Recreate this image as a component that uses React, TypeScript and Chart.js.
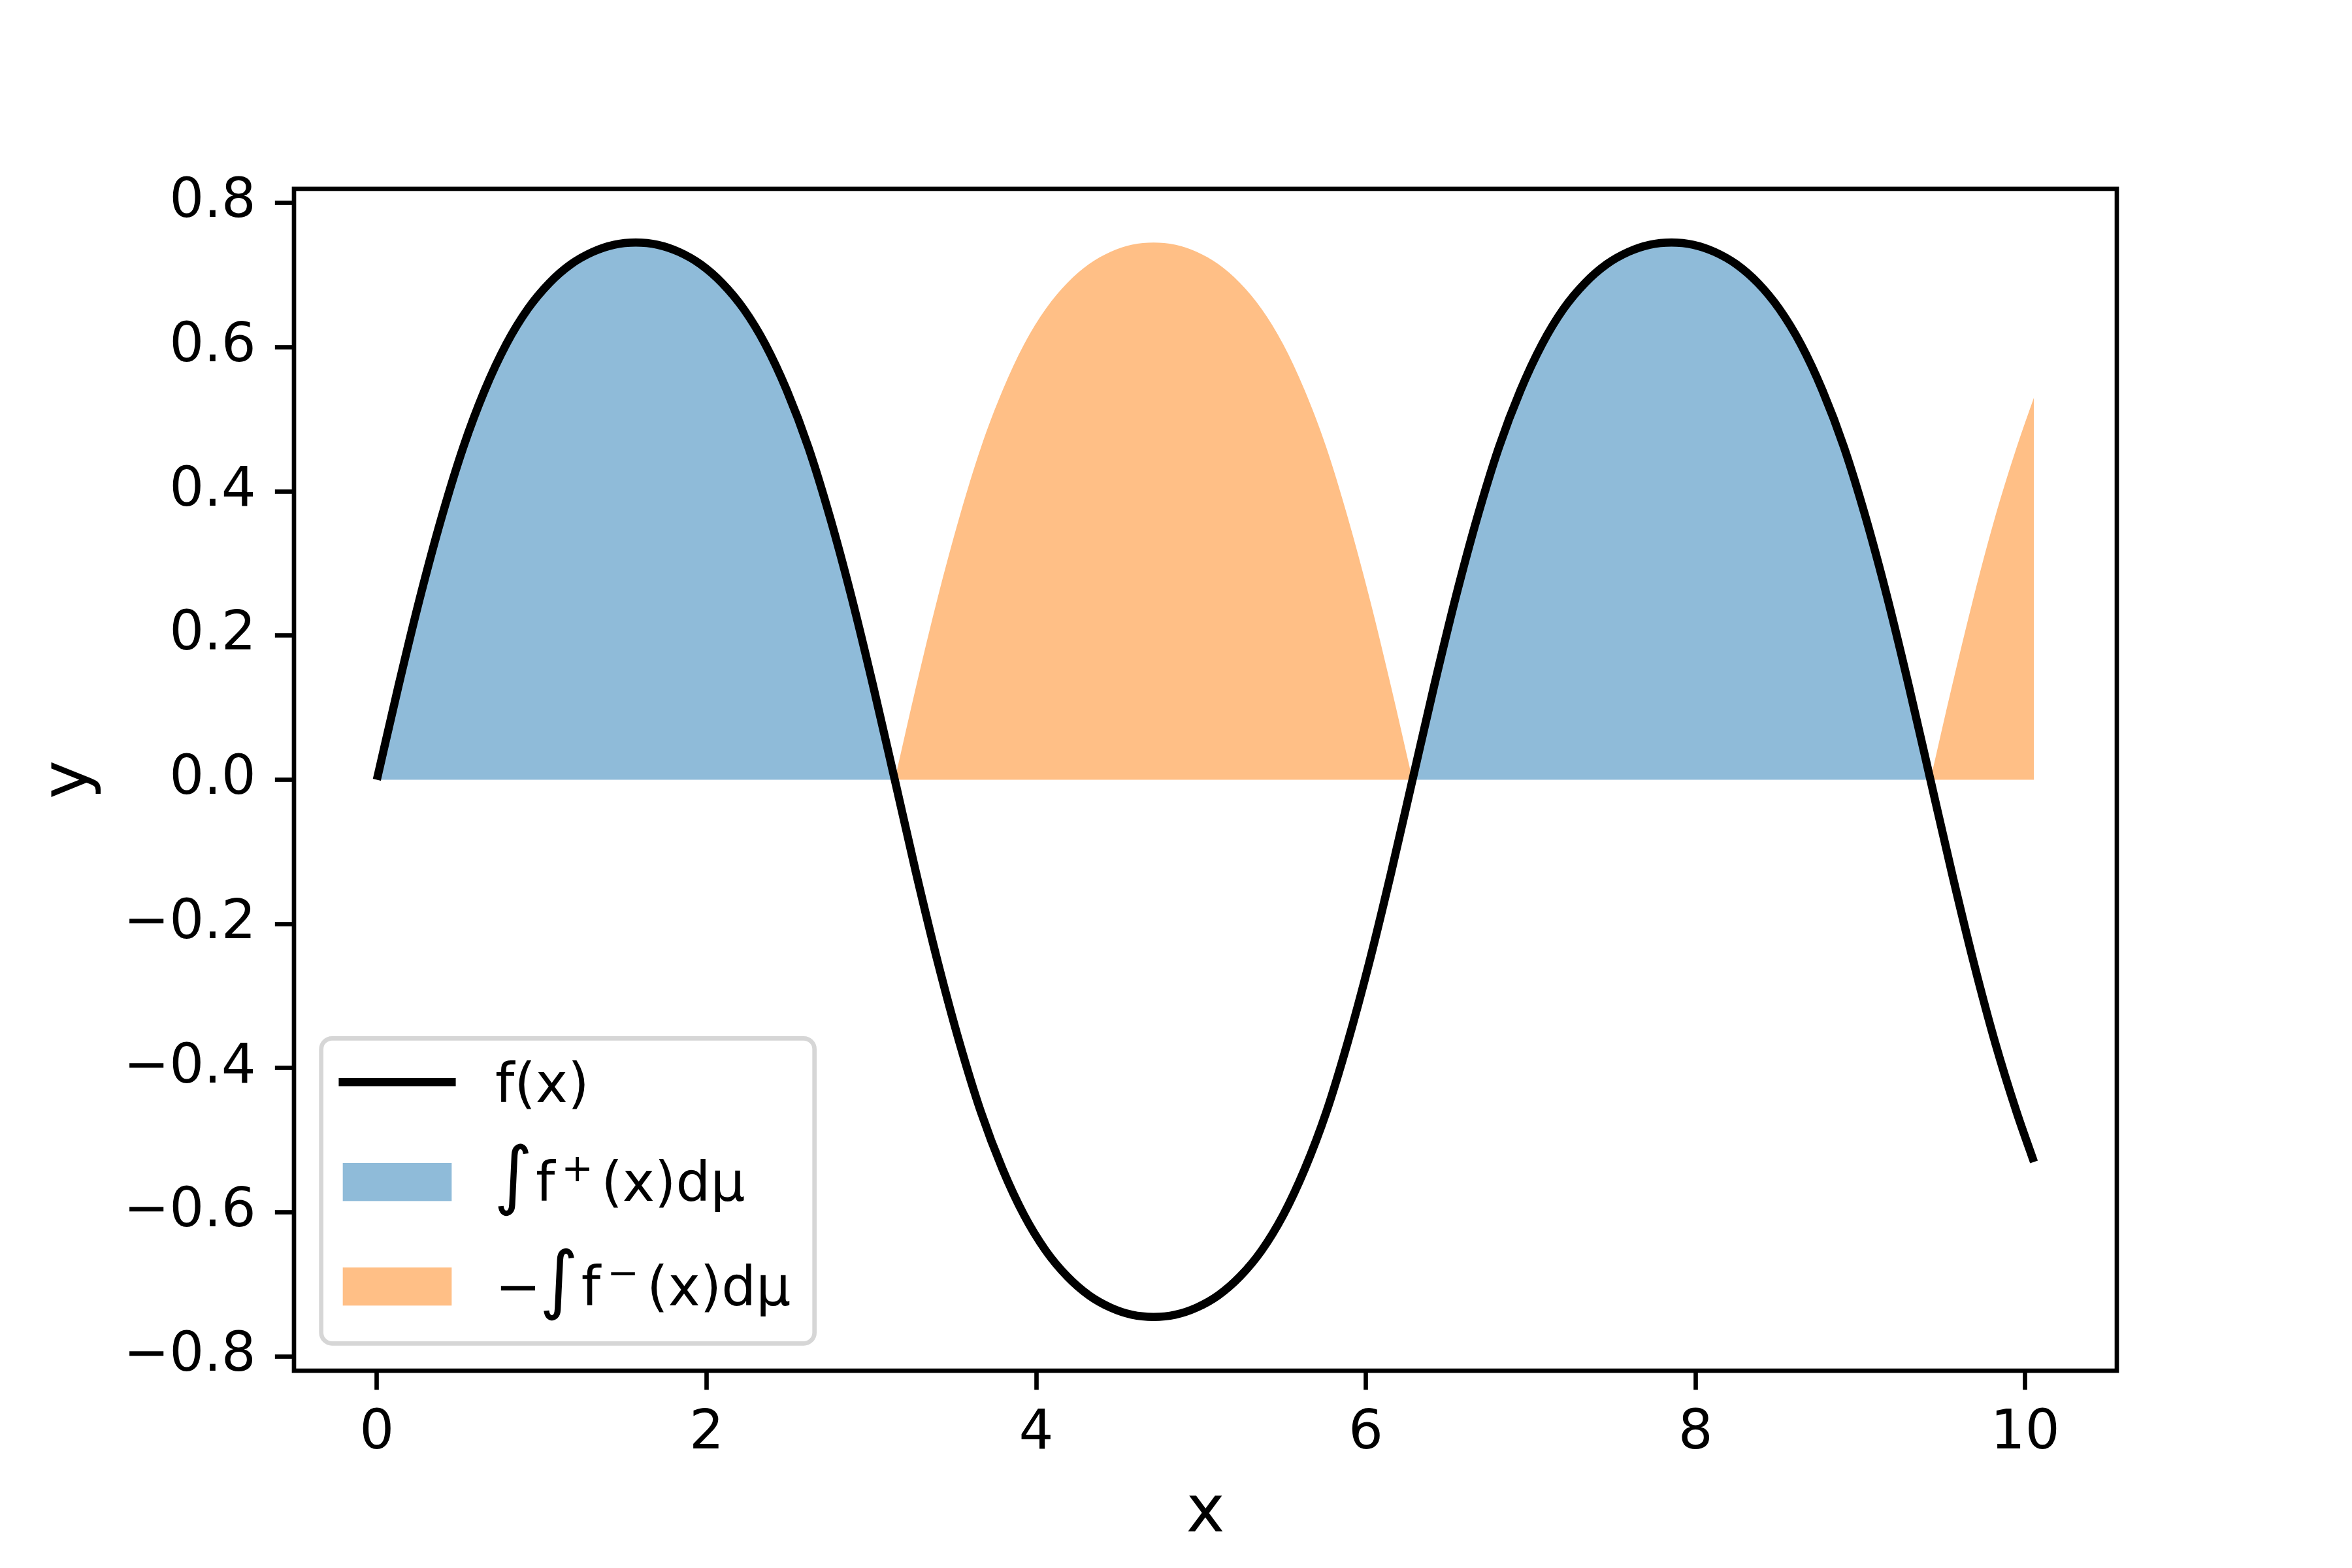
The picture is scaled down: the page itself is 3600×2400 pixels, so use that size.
import React, { useEffect, useRef } from 'react';
import { Chart, registerables } from 'chart.js';

Chart.register(...registerables);

// ---- data ----
const xValues = [
  0, 0.131, 0.262, 0.393, 0.524, 0.654, 0.785, 0.916, 1.047, 1.178, 1.309, 1.44,
  1.571, 1.702, 1.833, 1.963, 2.094, 2.225, 2.356, 2.487, 2.618, 2.749, 2.88, 3.011,
  3.142, 3.272, 3.403, 3.534, 3.665, 3.796, 3.927, 4.058, 4.189, 4.32, 4.451, 4.581,
  4.712, 4.843, 4.974, 5.105, 5.236, 5.367, 5.498, 5.629, 5.76, 5.89, 6.021, 6.152,
  6.283, 6.414, 6.545, 6.676, 6.807, 6.938, 7.069, 7.199, 7.33, 7.461, 7.592, 7.723,
  7.854, 7.985, 8.116, 8.247, 8.378, 8.508, 8.639, 8.77, 8.901, 9.032, 9.163, 9.294,
  9.425, 9.556, 9.687, 9.817, 9.948, 10.053,
];
const fValues = [
  0, 0.13, 0.253, 0.364, 0.461, 0.54, 0.604, 0.653, 0.689, 0.715, 0.732, 0.742,
  0.745, 0.742, 0.732, 0.715, 0.689, 0.653, 0.604, 0.54, 0.461, 0.364, 0.253, 0.13,
  0, -0.13, -0.253, -0.364, -0.461, -0.54, -0.604, -0.653, -0.689, -0.715, -0.732, -0.742,
  -0.745, -0.742, -0.732, -0.715, -0.689, -0.653, -0.604, -0.54, -0.461, -0.364, -0.253, -0.13,
  0, 0.13, 0.253, 0.364, 0.461, 0.54, 0.604, 0.653, 0.689, 0.715, 0.732, 0.742,
  0.745, 0.742, 0.732, 0.715, 0.689, 0.653, 0.604, 0.54, 0.461, 0.364, 0.253, 0.13,
  0, -0.13, -0.253, -0.364, -0.461, -0.53,
];
const xTickValues = [0, 2, 4, 6, 8, 10];
const yTickValues = [-0.8, -0.6, -0.4, -0.2, 0, 0.2, 0.4, 0.6, 0.8];
const seriesLabels = ['f(x)', '∫f⁺(x)dμ', '−∫f⁻(x)dμ'];
const seriesColors = ['#000000', 'rgba(31,119,180,0.5)', 'rgba(255,127,14,0.5)'];
const xAxisLabel = 'x';
const yAxisLabel = 'y';

// ---- styling ----
const FONT = '"DejaVu Sans", "Liberation Sans", sans-serif';
const PT = 600 / 72;
const TICK_SIZE = 10 * PT;
const LABEL_SIZE = 12 * PT;

const xMin = -0.5027;
const xMax = 10.5557;
const yMin = -0.8195;
const yMax = 0.8195;

function drawMathLabel(ctx: CanvasRenderingContext2D, text: string, x: number, baseline: number, size: number) {
  let cx = x;
  ctx.fillStyle = '#000';
  ctx.textAlign = 'left';
  ctx.textBaseline = 'alphabetic';
  const k = size / 83.333;
  for (const ch of Array.from(text)) {
    if (ch === '∫') {
      ctx.font = `100px ${FONT}`;
      const m = ctx.measureText('∫');
      const h = m.actualBoundingBoxAscent + m.actualBoundingBoxDescent;
      const s = (100 * 112 * k) / h;
      ctx.font = `${s}px ${FONT}`;
      const m2 = ctx.measureText('∫');
      const top = baseline - 88 * k;
      const by = top + m2.actualBoundingBoxAscent;
      const bx = cx + 4 * k + m2.actualBoundingBoxLeft;
      ctx.fillText('∫', bx, by);
      cx += 62 * k;
    } else if (ch === '⁺' || ch === '⁻') {
      const s = size * 0.7;
      const g = ch === '⁺' ? '+' : '−';
      cx += 10 * k;
      ctx.font = `${s}px ${FONT}`;
      ctx.fillText(g, cx, baseline - 30 * k);
      cx += ctx.measureText(g).width + 12 * k;
    } else {
      ctx.font = `${size}px ${FONT}`;
      ctx.fillText(ch, cx, baseline);
      cx += ctx.measureText(ch).width;
    }
  }
}

const framePlugin = {
  id: 'mplFrame',
  afterDatasetsDraw(chart: any) {
    const { ctx, chartArea } = chart;
    ctx.save();
    ctx.strokeStyle = '#000';
    ctx.lineWidth = 0.8 * PT;
    ctx.strokeRect(chartArea.left, chartArea.top, chartArea.right - chartArea.left, chartArea.bottom - chartArea.top);
    ctx.restore();
  },
};

const legendPlugin = {
  id: 'mplLegend',
  afterDraw(chart: any) {
    const { ctx, chartArea } = chart;
    const fs = TICK_SIZE;
    const pad = 0.5 * fs;
    const left = chartArea.left + pad;
    const bottom = chartArea.bottom - pad;
    const width = 755;
    const height = 467;
    const top = bottom - height;
    const r = 0.2 * fs;
    ctx.save();
    ctx.beginPath();
    ctx.moveTo(left + r, top);
    ctx.lineTo(left + width - r, top);
    ctx.arcTo(left + width, top, left + width, top + r, r);
    ctx.lineTo(left + width, bottom - r);
    ctx.arcTo(left + width, bottom, left + width - r, bottom, r);
    ctx.lineTo(left + r, bottom);
    ctx.arcTo(left, bottom, left, bottom - r, r);
    ctx.lineTo(left, top + r);
    ctx.arcTo(left, top, left + r, top, r);
    ctx.closePath();
    ctx.fillStyle = 'rgba(255,255,255,0.8)';
    ctx.fill();
    ctx.strokeStyle = 'rgba(204,204,204,0.8)';
    ctx.lineWidth = 0.8 * PT;
    ctx.stroke();

    const hx0 = left + 33;
    const hx1 = hx0 + 2 * fs;
    const textX = hx1 + 0.8 * fs;
    const baselines = [top + 98, top + 249, top + 409];
    const datasets = chart.data.datasets;
    for (let i = 0; i < datasets.length; i++) {
      const ds = datasets[i];
      const b = baselines[i];
      if (i === 0) {
        ctx.strokeStyle = seriesColors[0];
        ctx.lineWidth = 1.5 * PT;
        ctx.lineCap = 'square';
        ctx.beginPath();
        ctx.moveTo(hx0, b - 31);
        ctx.lineTo(hx1, b - 31);
        ctx.stroke();
      } else {
        ctx.fillStyle = seriesColors[i];
        ctx.fillRect(hx0, b - 0.7 * fs, hx1 - hx0, 0.7 * fs);
      }
      drawMathLabel(ctx, ds.label, textX, b, fs);
    }
    ctx.restore();
  },
};

export default function App() {
  const canvasRef = useRef<HTMLCanvasElement | null>(null);

  useEffect(() => {
    const canvas = canvasRef.current;
    if (!canvas) return;

    const linePts = xValues.map((x, i) => ({ x, y: fValues[i] }));
    const posPts = xValues.map((x, i) => ({ x, y: fValues[i] >= 0 ? fValues[i] : null }));
    const negPts = xValues.map((x, i) => ({ x, y: fValues[i] <= 0 ? -fValues[i] : null }));

    const chart = new Chart(canvas, {
      type: 'line',
      data: {
        datasets: [
          {
            label: seriesLabels[0],
            data: linePts,
            borderColor: seriesColors[0],
            borderWidth: 1.5 * PT,
            borderCapStyle: 'butt',
            borderJoinStyle: 'round',
            pointRadius: 0,
            fill: false,
            cubicInterpolationMode: 'monotone',
            order: 0,
          },
          {
            label: seriesLabels[1],
            data: posPts,
            borderColor: 'rgba(0,0,0,0)',
            backgroundColor: seriesColors[1],
            borderWidth: 0,
            pointRadius: 0,
            fill: 'origin',
            spanGaps: false,
            cubicInterpolationMode: 'monotone',
            order: 2,
          },
          {
            label: seriesLabels[2],
            data: negPts,
            borderColor: 'rgba(0,0,0,0)',
            backgroundColor: seriesColors[2],
            borderWidth: 0,
            pointRadius: 0,
            fill: 'origin',
            spanGaps: false,
            cubicInterpolationMode: 'monotone',
            order: 1,
          },
        ] as any,
      },
      options: {
        animation: false,
        responsive: false,
        devicePixelRatio: 1,
        events: [],
        layout: { padding: { left: 0, top: 289, right: 360, bottom: 0 } },
        plugins: {
          legend: { display: false },
          tooltip: { enabled: false },
        },
        scales: {
          x: {
            type: 'linear',
            min: xMin,
            max: xMax,
            afterBuildTicks: (s: any) => {
              s.ticks = xTickValues.map((v) => ({ value: v }));
            },
            afterFit: (s: any) => {
              s.height = 302;
            },
            grid: {
              display: true,
              drawOnChartArea: false,
              drawTicks: true,
              tickLength: 3.5 * PT,
              tickWidth: 0.8 * PT,
              tickColor: '#000',
            },
            border: { display: false },
            ticks: {
              color: '#000',
              font: { family: FONT, size: TICK_SIZE },
              padding: 18.5,
              maxRotation: 0,
              autoSkip: false,
              callback: (v: any) => String(v),
            },
            title: {
              display: true,
              text: xAxisLabel,
              color: '#000',
              font: { family: FONT, size: LABEL_SIZE },
              padding: { top: 0, bottom: 22 },
            },
          },
          y: {
            type: 'linear',
            min: yMin,
            max: yMax,
            afterBuildTicks: (s: any) => {
              s.ticks = yTickValues.map((v) => ({ value: v }));
            },
            afterFit: (s: any) => {
              s.width = 450;
            },
            grid: {
              display: true,
              drawOnChartArea: false,
              drawTicks: true,
              tickLength: 3.5 * PT,
              tickWidth: 0.8 * PT,
              tickColor: '#000',
            },
            border: { display: false },
            ticks: {
              color: '#000',
              font: { family: FONT, size: TICK_SIZE },
              padding: 3.5 * PT,
              autoSkip: false,
              callback: (v: any) => Number(v).toFixed(1).replace('-', '−'),
            },
            title: {
              display: true,
              text: yAxisLabel,
              color: '#000',
              font: { family: FONT, size: LABEL_SIZE },
              padding: { top: 47, bottom: 0 },
            },
          },
        },
      } as any,
      plugins: [framePlugin, legendPlugin],
    });

    return () => {
      chart.destroy();
    };
  }, []);

  return (
    <div style={{ position: 'absolute', left: 0, top: 0, width: 3600, height: 2400, background: '#ffffff' }}>
      <canvas ref={canvasRef} width={3600} height={2400} style={{ width: 3600, height: 2400, display: 'block' }} />
    </div>
  );
}
